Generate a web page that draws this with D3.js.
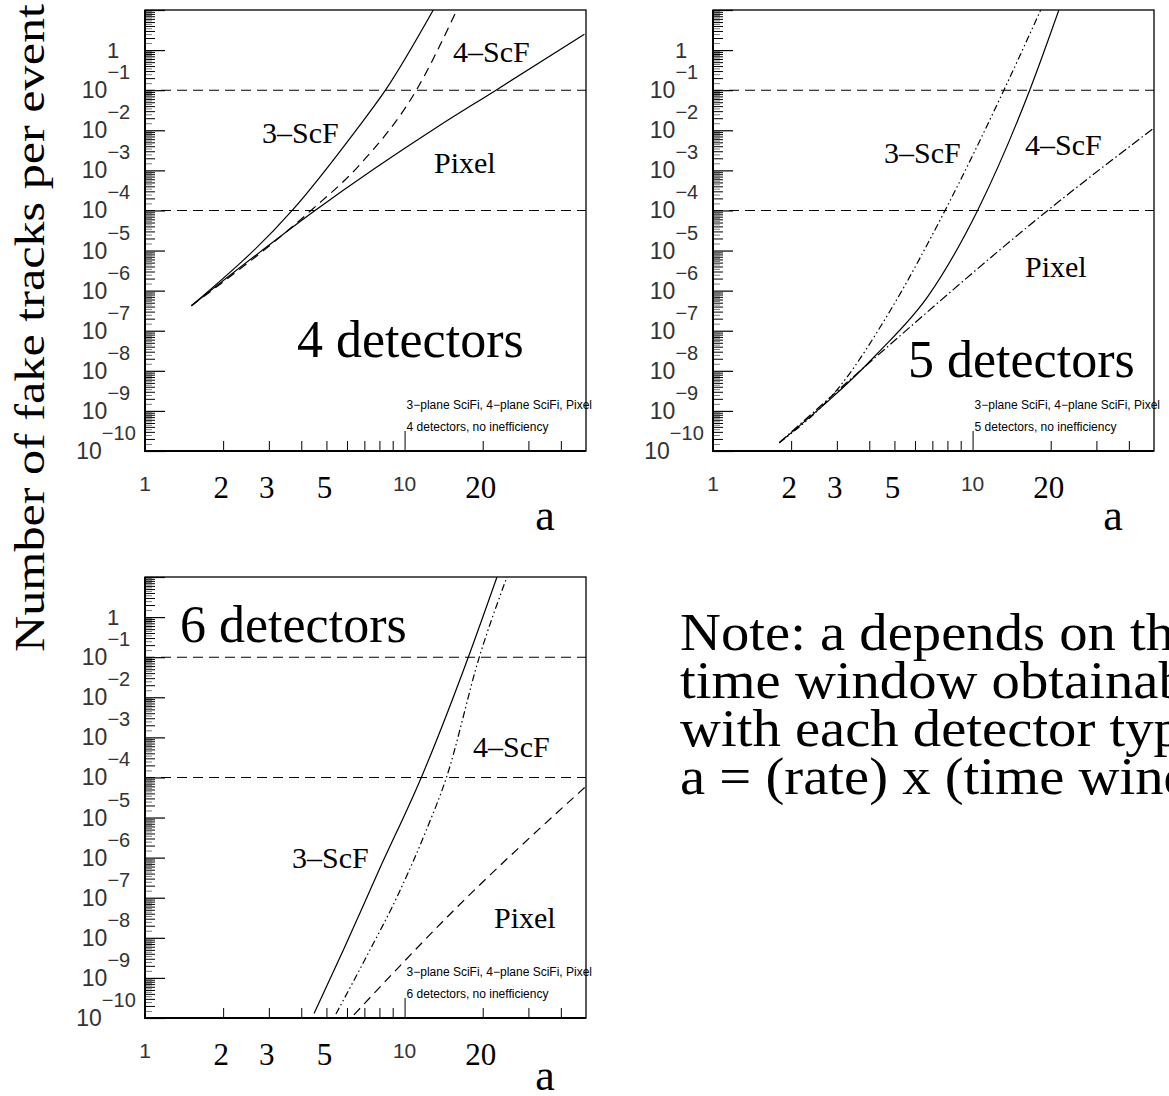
<!DOCTYPE html>
<html>
<head>
<meta charset="utf-8">
<script src="https://cdn.jsdelivr.net/npm/d3@7"></script>
<style>
  body { margin: 0; background: #fff; }
  svg { display: block; }
  .tick text { display: none; }
</style>
</head>
<body>
<div id="chart-area"></div>
<script>
// chart size
let width = 1169,
	height = 1096;

// tick labels
const yExponents = [0, -1, -2, -3, -4, -5, -6, -7, -8, -9, -10];
const xLabelsSans = [1, 10];
const xLabelsSerif = [2, 3, 5, 20];
const refLines = [1e-1, 1e-4];
const curveNames = ["3\u2013ScF", "4\u2013ScF", "Pixel"];
const noteLines = ["Note: a depends on the", "time window obtainable", "with each detector type.", "a = (rate) x (time window)"];

// 4 detectors: [a, fake tracks per event]
const det4_3ScF = [[1.51, 4.2e-7], [3.69, 1e-4], [6.5, 1e-2], [8.44, 0.1], [12.9, 10]];
const det4_4ScF = [[1.51, 4.2e-7], [4.36, 1e-4], [6.66, 1.3e-3], [11.1, 0.1], [15.9, 10]];
const det4_Pixel = [[1.51, 4.2e-7], [4.52, 1e-4], [13.5, 1.26e-2], [22.5, 0.1], [49.3, 2.5]];

// 5 detectors
const det5_3ScF = [[1.80, 1.6e-10], [3.09, 4.2e-9], [4.82, 3.2e-7], [7.87, 1.06e-4], [13.2, 0.1], [18.3, 10]];
const det5_4ScF = [[1.80, 1.6e-10], [4.30, 2.7e-8], [6.76, 7.5e-7], [10.5, 1.06e-4], [16.6, 0.1], [21.5, 10]];
const det5_Pixel = [[1.80, 1.6e-10], [4.30, 2.4e-8], [19.7, 1.06e-4], [49.6, 1.1e-2]];

// 6 detectors
const det6_3ScF = [[4.48, 1.3e-10], [5.84, 5.3e-9], [7.95, 4.7e-7], [11.6, 1e-4], [17.6, 0.1], [22.7, 10]];
const det6_4ScF = [[5.44, 1.26e-10], [7.15, 3.5e-9], [9.48, 1.26e-7], [12.1, 4.7e-6], [14.5, 1e-4], [19.4, 0.1], [24.8, 10]];
const det6_Pixel = [[6.38, 1.2e-10], [15.7, 5.3e-8], [49.4, 5.6e-5]];

let dashStyles = {
	solid: null,
	dashed: "9,6",
	dashdot: "9,3,1.5,3",
	dashdotdot: "7,3,1.5,3,1.5,3"
};

let panels = [
	{ left: 145, top: 10, title: "4 detectors", titlePos: [297, 357], aY: 79,
	  series: [det4_3ScF, det4_4ScF, det4_Pixel], styles: ["solid", "dashed", "solid"],
	  labels: [[262, 143], [453, 62], [434, 173]] },
	{ left: 713, top: 10, title: "5 detectors", titlePos: [908, 377], aY: 79,
	  series: [det5_3ScF, det5_4ScF, det5_Pixel], styles: ["dashdotdot", "solid", "dashdot"],
	  labels: [[884, 163], [1025, 155], [1025, 277]] },
	{ left: 145, top: 577, title: "6 detectors", titlePos: [180, 642], aY: 72,
	  series: [det6_3ScF, det6_4ScF, det6_Pixel], styles: ["solid", "dashdotdot", "dashed"],
	  labels: [[292, 868], [473, 757], [494, 928]] }
];

let pw = 441, ph = 441;
let serif = "'Liberation Serif', 'Times New Roman', serif";
let sans = "'Liberation Sans', Arial, sans-serif";

let svg = d3.select("#chart-area")
	.append("svg")
	.attr("width", width)
	.attr("height", height);

let xScale = d3.scaleLog().domain([1, 50]).range([0, pw]);
let yScale = d3.scaleLog().domain([1e-10, 10]).range([ph, 0]);

let yMajor = d3.range(-10, 2).map(e => Math.pow(10, e));
let yMinor = d3.range(-10, 1).flatMap(e => d3.range(2, 10).map(m => m * Math.pow(10, e)));
let yFine = d3.range(-10, 1).flatMap(e => d3.range(1.5, 10, 1).map(m => m * Math.pow(10, e)));

panels.forEach((p, i) => {
	let g = svg.append("g").attr("transform", "translate(" + p.left + "," + p.top + ")");

	g.append("clipPath").attr("id", "clip" + i)
		.append("rect").attr("width", pw).attr("height", ph);

	// reference lines
	g.selectAll(".ref")
		.data(refLines)
		.enter()
		.append("line")
		.attr("x1", 0).attr("x2", pw)
		.attr("y1", d => yScale(d)).attr("y2", d => yScale(d))
		.attr("stroke", "#000").attr("stroke-width", 1.1)
		.attr("stroke-dasharray", "10,6");

	// y axis ticks (inside)
	g.append("g").call(d3.axisLeft(yScale).tickValues(yMajor).tickSize(-20).tickFormat(""))
		.call(a => a.select(".domain").remove())
		.selectAll("line").attr("stroke-width", 1.2);
	g.append("g").call(d3.axisLeft(yScale).tickValues(yMinor).tickSize(-10).tickFormat(""))
		.call(a => a.select(".domain").remove())
		.selectAll("line").attr("stroke-width", 1);
	g.append("g").call(d3.axisLeft(yScale).tickValues(yFine).tickSize(-7).tickFormat(""))
		.call(a => a.select(".domain").remove())
		.selectAll("line").attr("stroke-width", 0.8).attr("stroke", "#555");

	// x axis ticks (inside)
	g.append("g").attr("transform", "translate(0," + ph + ")")
		.call(d3.axisBottom(xScale).tickValues([2, 3, 4, 5, 6, 7, 8, 9, 20, 30, 40]).tickSize(-10).tickFormat(""))
		.call(a => a.select(".domain").remove());
	g.append("g").attr("transform", "translate(0," + ph + ")")
		.call(d3.axisBottom(xScale).tickValues([10]).tickSize(-20).tickFormat(""))
		.call(a => a.select(".domain").remove());

	// frame
	g.append("rect").attr("width", pw).attr("height", ph)
		.attr("fill", "none").attr("stroke", "#000").attr("stroke-width", 1.3);
	g.append("path").attr("d", "M0,0V" + ph + "H" + pw)
		.attr("fill", "none").attr("stroke", "#000").attr("stroke-width", 2);

	// curves
	let line = d3.line()
		.x(d => xScale(d[0]))
		.y(d => yScale(d[1]))
		.curve(d3.curveMonotoneX);

	g.append("g").attr("clip-path", "url(#clip" + i + ")")
		.selectAll("path")
		.data(p.series)
		.enter()
		.append("path")
		.attr("d", line)
		.attr("fill", "none")
		.attr("stroke", "#000")
		.attr("stroke-width", 1.2)
		.attr("stroke-dasharray", (d, j) => dashStyles[p.styles[j]]);

	// y tick labels
	yExponents.forEach(e => {
		let ty = yScale(Math.pow(10, e));
		if (e === 0) {
			g.append("text").attr("x", -32).attr("y", ty + 8)
				.attr("text-anchor", "middle")
				.attr("font-family", sans).attr("font-size", 22).attr("fill", "#333")
				.text("1");
		} else {
			let t = g.append("text").attr("x", -39).attr("y", ty + 8)
				.attr("text-anchor", "middle")
				.attr("font-family", sans).attr("font-size", 23).attr("fill", "#333");
			t.append("tspan").text("10");
			t.append("tspan").attr("dy", -19).attr("font-size", 20).text("\u2212" + (-e));
		}
	});

	// x tick labels
	xLabelsSans.forEach(v => {
		g.append("text").attr("x", xScale(v)).attr("y", ph + 40)
			.attr("text-anchor", "middle")
			.attr("font-family", sans).attr("font-size", 21).attr("fill", "#333")
			.text(v);
	});
	xLabelsSerif.forEach(v => {
		g.append("text").attr("x", xScale(v) - 2).attr("y", ph + 47)
			.attr("text-anchor", "middle")
			.attr("font-family", serif).attr("font-size", 31)
			.text(v);
	});
	g.append("text").attr("x", 400).attr("y", ph + p.aY)
		.attr("text-anchor", "middle")
		.attr("font-family", serif).attr("font-size", 44)
		.text("a");

	// small annotation
	let ax = xScale(10) + 2;
	g.append("text").attr("x", ax).attr("y", ph - 42)
		.attr("font-family", sans).attr("font-size", 12)
		.text("3\u2212plane SciFi, 4\u2212plane SciFi, Pixel");
	g.append("text").attr("x", ax).attr("y", ph - 20)
		.attr("font-family", sans).attr("font-size", 12)
		.text(p.title + ", no inefficiency");

	// curve names and title
	p.labels.forEach((pos, j) => {
		svg.append("text").attr("x", pos[0]).attr("y", pos[1])
			.attr("font-family", serif).attr("font-size", 30)
			.text(curveNames[j]);
	});
	svg.append("text").attr("x", p.titlePos[0]).attr("y", p.titlePos[1])
		.attr("font-family", serif).attr("font-size", 52)
		.text(p.title);
});

// y axis title
svg.append("text")
	.attr("transform", "translate(44,652) rotate(-90)")
	.attr("font-family", serif).attr("font-size", 43)
	.attr("textLength", 648).attr("lengthAdjust", "spacingAndGlyphs")
	.text("Number of fake tracks per event");

// note
svg.append("g")
	.attr("transform", "translate(680,0) scale(1.09,1)")
	.selectAll("text")
	.data(noteLines)
	.enter()
	.append("text")
	.attr("x", 0)
	.attr("y", (d, i) => 650 + i * 48)
	.attr("font-family", serif).attr("font-size", 52)
	.text(d => d);
</script>
</body>
</html>
